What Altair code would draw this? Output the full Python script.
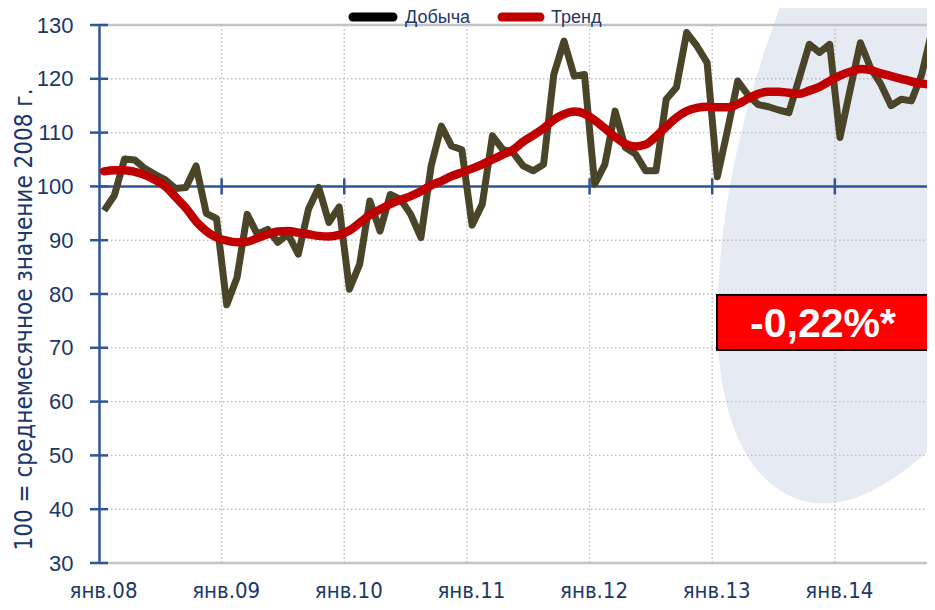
import altair as alt
import pandas as pd

# ---------------- data ----------------
year_labels = ["янв.08", "янв.09", "янв.10", "янв.11", "янв.12", "янв.13", "янв.14"]
year_ticks = [0, 12, 24, 36, 48, 60, 72]
series_names = ["Добыча", "Тренд"]

production = [95.5, 98.3, 105.1, 104.9, 103.3, 102.2, 101.2, 99.6, 99.8, 103.8, 95.0, 94.0,
              78.0, 83.0, 94.8, 91.1, 92.0, 89.6, 91.1, 87.4, 95.8, 99.8, 93.3, 96.2,
              80.9, 85.5, 97.3, 91.7, 98.5, 97.6, 94.8, 90.5, 103.8, 111.2, 107.5, 106.8,
              92.8, 96.7, 109.4, 106.9, 106.3, 103.8, 102.9, 104.1, 120.8, 127.0, 120.5, 120.8,
              100.4, 104.1, 114.0, 107.2, 106.0, 102.9, 102.9, 116.2, 118.4, 128.6, 126.1, 123.0,
              101.8, 110.5, 119.6, 117.0, 115.2, 114.8, 114.2, 113.7, 120.0, 126.4, 124.9, 126.4,
              109.1, 118.0, 126.7, 122.0, 119.0, 115.0, 116.2, 115.9, 120.8, 128.9]

trend = [102.8, 103.0, 103.0, 102.7, 102.1, 101.2, 100.0, 98.0, 96.0, 93.5, 91.7, 90.5,
         89.9, 89.6, 89.7, 90.4, 91.1, 91.6, 91.7, 91.4, 91.1, 90.8, 90.7, 91.0,
         91.8, 93.2, 94.7, 95.7, 96.7, 97.5, 98.2, 99.1, 100.2, 101.0, 101.9, 102.6,
         103.3, 104.1, 105.0, 105.9, 106.8, 108.3, 109.5, 110.8, 112.4, 113.4, 113.9, 113.5,
         112.3, 110.8, 109.2, 107.9, 107.4, 107.8, 109.3, 111.1, 112.8, 114.0, 114.6, 114.8,
         114.7, 114.7, 115.3, 116.3, 117.2, 117.6, 117.6, 117.4, 117.2, 117.8, 118.5, 119.6,
         120.6, 121.3, 121.8, 121.6, 121.0, 120.5, 120.0, 119.5, 119.1, 118.9]

y_ticks = [30, 40, 50, 60, 70, 80, 90, 100, 110, 120, 130]
grid_y = [40, 50, 60, 70, 80, 90, 110, 120]
border_y = [30, 130]
annotation = "-0,22%*"
y_title = "100 = среднемесячное значение 2008 г."

# ---------------- styling ----------------
NAVY = "#1B3768"
BLUE = "#2F5597"
OLIVE = "#4A4529"
RED = "#C00000"
GRID = "#BDBDBD"
NARROW = "Liberation Sans Narrow, Arial Narrow, DejaVu Sans Condensed, Liberation Sans"
W, H = 828, 538

df = pd.DataFrame({"m": [i + 0.5 for i in range(len(production))],
                   "prod": production, "trend": trend})

xs = alt.Scale(domain=[0, 81.8], range=[0, 836], nice=False, zero=False)
ys = alt.Scale(domain=[30, 130], nice=False, zero=False)

label_expr = "[" + ",".join("'%s'" % s for s in year_labels) + "][round(datum.value/12)]"

x_axis = alt.Axis(values=year_ticks, domain=False, ticks=False, grid=False,
                  labelExpr=label_expr, labelFont=NARROW, labelFontSize=22,
                  labelColor=NAVY, labelPadding=17, labelOffset=4, labelFlush=False,
                  labelOverlap=False, labelBound=False, labelBaseline="top", title=None)
y_axis = alt.Axis(values=y_ticks, domain=True, domainColor=BLUE, domainWidth=2.5,
                  ticks=False, grid=False, labelFont="Liberation Sans", labelFontSize=22,
                  labelColor=NAVY, labelPadding=26, title=y_title, titleFont=NARROW,
                  titleFontSize=24, titleFontWeight="normal", titleColor=NAVY,
                  titleAngle=270, titleX=-75, titleY=294, titleAlign="center",
                  titleBaseline="middle")


def X(field):
    return alt.X(field, type="quantitative", scale=xs, axis=x_axis)


def Y(field):
    return alt.Y(field, type="quantitative", scale=ys, axis=y_axis)


one = pd.DataFrame({"a": [0]})

# decorative background swoosh
swoosh_path = ("M -0.6 -2.7 C -0.9 -1.9 -1.25 -0.9 -1.32 0.4 C -1.38 1.5 -1.1 2.3 -0.5 2.5 "
               "C 0 2.65 0.5 2.3 1.0 1.8 L 1.0 -2.7 Z")
swoosh = alt.Chart(one).mark_point(shape=swoosh_path, size=40000, filled=True,
                                   fill="#E6EAF3", opacity=1, strokeWidth=0).encode(
    x=alt.value(751), y=alt.value(225))

hgrid = alt.Chart(pd.DataFrame({"v": grid_y})).mark_rule(
    color=GRID, strokeDash=[1.5, 2.5], strokeWidth=1.4).encode(
    y=Y("v"), x=alt.value(0), x2=alt.value(836))

vgrid = alt.Chart(pd.DataFrame({"v": year_ticks[1:]})).mark_rule(
    color=GRID, strokeDash=[1.5, 2.5], strokeWidth=1.4).encode(
    x=X("v"), y=alt.value(0), y2=alt.value(H))

borders = alt.Chart(pd.DataFrame({"v": border_y})).mark_rule(
    color="#C4C4C4", strokeWidth=2.5).encode(
    y=Y("v"), x=alt.value(0), x2=alt.value(836))

base100 = alt.Chart(one).mark_rule(color=BLUE, strokeWidth=2.5).encode(
    y=alt.datum(100, scale=ys), x=alt.value(0), x2=alt.value(836))

xticks = alt.Chart(pd.DataFrame({"v": year_ticks[1:]})).mark_rule(
    color=BLUE, strokeWidth=2.5).encode(
    x=X("v"), y=alt.datum(98.5, scale=ys), y2=alt.datum(101.5))

yticks = alt.Chart(pd.DataFrame({"v": y_ticks})).mark_rule(
    color=BLUE, strokeWidth=2.5).encode(
    y=Y("v"), x=alt.value(-9), x2=alt.value(9))

prod_line = alt.Chart(df).mark_line(color=OLIVE, strokeWidth=7, strokeJoin="round").encode(
    x=X("m"), y=Y("prod"))

trend_line = alt.Chart(df).mark_line(color=RED, strokeWidth=8.5, interpolate="monotone",
                                     strokeCap="round").encode(
    x=X("m"), y=Y("trend"))

box = alt.Chart(one).mark_rect(fill="#FF0000", stroke="#000000", strokeWidth=2).encode(
    x=alt.value(618), x2=alt.value(830), y=alt.value(270), y2=alt.value(325))

box_text = alt.Chart(one).mark_text(text=annotation, font="Liberation Sans", fontWeight="bold",
                                    fontSize=41, color="white", align="center",
                                    baseline="middle").encode(
    x=alt.value(724), y=alt.value(300))

leg_lines = alt.layer(
    alt.Chart(one).mark_rule(color="#000000", strokeWidth=9, strokeCap="round").encode(
        x=alt.value(254), x2=alt.value(294), y=alt.value(-8)),
    alt.Chart(one).mark_rule(color=RED, strokeWidth=9, strokeCap="round").encode(
        x=alt.value(403), x2=alt.value(441), y=alt.value(-8)),
)
leg_text = alt.layer(
    alt.Chart(one).mark_text(text=series_names[0], font="Liberation Sans", fontSize=18,
                             color=NAVY, align="left", baseline="alphabetic").encode(
        x=alt.value(306), y=alt.value(-2)),
    alt.Chart(one).mark_text(text=series_names[1], font="Liberation Sans", fontSize=18,
                             color=NAVY, align="left", baseline="alphabetic").encode(
        x=alt.value(452), y=alt.value(-2)),
)

chart = alt.layer(
    swoosh, hgrid, vgrid, borders, base100, xticks, yticks,
    prod_line, trend_line, box, box_text, leg_lines, leg_text
).properties(
    width=W, height=H,
    padding={"left": 91, "top": 17, "right": 0, "bottom": 39},
    autosize=alt.AutoSizeParams(type="none"),
    background="white",
).configure_view(stroke=None)

chart.save("out.html", embed_options={"renderer": "svg", "actions": False})
